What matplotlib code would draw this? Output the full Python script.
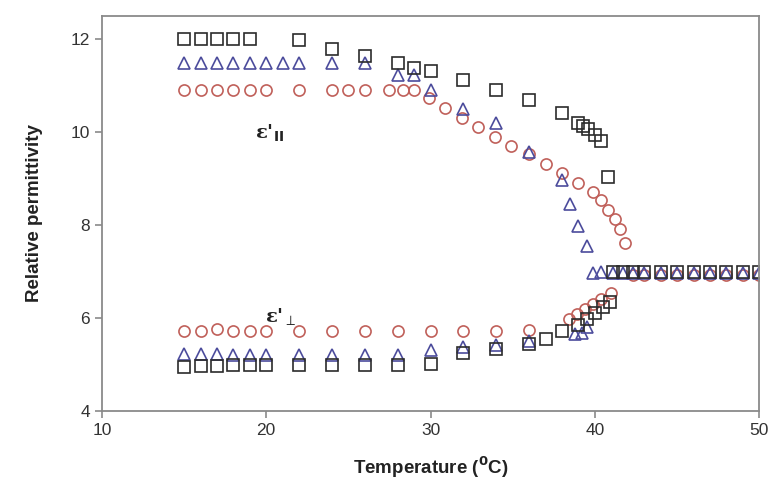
import numpy as np
import matplotlib
matplotlib.use('Agg')
import matplotlib.pyplot as plt

plt.rcParams['font.family'] = ['Liberation Sans', 'DejaVu Sans']

# parallel branch (upper curves)
sq_par_t = [15, 16, 17, 18, 19, 22, 24, 26, 28, 29, 30, 32, 34, 36, 38,
            39, 39.3, 39.6, 40, 40.4, 40.8,
            41.1, 41.7, 42.3, 43, 44, 45, 46, 47, 48, 49, 50]
sq_par_v = [12.0, 12.0, 12.0, 12.0, 12.0, 11.98, 11.78, 11.63, 11.48, 11.38, 11.32, 11.13, 10.9, 10.69, 10.42,
            10.2, 10.13, 10.06, 9.94, 9.8, 9.04,
            7.0, 7.0, 7.0, 7.0, 7.0, 7.0, 7.0, 7.0, 7.0, 7.0, 7.0]

tri_par_t = [15, 16, 17, 18, 19, 20, 21, 22, 24, 26, 28, 29, 30, 32, 34, 36, 38,
             38.5, 39, 39.5, 39.9, 40.4,
             41.1, 41.7, 42.3, 43, 44, 45, 46, 47, 48, 49, 50]
tri_par_v = [11.48, 11.48, 11.48, 11.48, 11.48, 11.48, 11.48, 11.48, 11.48, 11.48, 11.23, 11.23, 10.9, 10.5, 10.2, 9.58, 8.98,
             8.46, 7.98, 7.55, 6.97, 7.0,
             6.97, 6.97, 6.97, 6.97, 6.97, 6.97, 6.97, 6.97, 6.97, 6.97, 6.97]

cir_par_t = [15, 16, 17, 18, 19, 20, 22, 24, 25, 26, 27.5, 28.3, 29, 29.9, 30.9, 31.9, 32.9, 33.9, 34.9,
             36, 37, 38, 39, 39.9, 40.4, 40.8, 41.2, 41.5, 41.8,
             42.3, 43, 44, 45, 46, 47, 48, 49, 50]
cir_par_v = [10.91, 10.91, 10.91, 10.91, 10.91, 10.91, 10.91, 10.91, 10.91, 10.91, 10.91, 10.91, 10.91, 10.73, 10.52,
             10.3, 10.12, 9.9, 9.71, 9.52, 9.32, 9.12, 8.91, 8.72, 8.53, 8.33, 8.13, 7.92, 7.61,
             6.93, 6.93, 6.93, 6.93, 6.93, 6.93, 6.93, 6.93, 6.93]

# perpendicular branch (lower curves)
sq_perp_t = [15, 16, 17, 18, 19, 20, 22, 24, 26, 28, 30, 32, 34, 36, 37, 38, 39, 39.5, 40, 40.5, 40.9]
sq_perp_v = [4.95, 4.96, 4.97, 5.0, 5.0, 5.0, 4.99, 4.99, 4.99, 4.99, 5.02, 5.24, 5.33, 5.44, 5.54, 5.72, 5.85,
             5.98, 6.1, 6.24, 6.35]

tri_perp_t = [15, 16, 17, 18, 19, 20, 22, 24, 26, 28, 30, 32, 34, 36, 38.8, 39.2, 39.5]
tri_perp_v = [5.22, 5.22, 5.22, 5.2, 5.2, 5.2, 5.2, 5.2, 5.2, 5.2, 5.31, 5.38, 5.42, 5.5, 5.65, 5.68, 5.8]

cir_perp_t = [15, 16, 17, 18, 19, 20, 22, 24, 26, 28, 30, 32, 34, 36, 38.4, 38.9, 39.4, 39.9, 40.4, 41.0]
cir_perp_v = [5.72, 5.72, 5.77, 5.72, 5.72, 5.72, 5.72, 5.72, 5.72, 5.72, 5.72, 5.72, 5.72, 5.74,
              5.99, 6.08, 6.19, 6.3, 6.42, 6.53]

sq_col = '#2b2b2b'
tri_col = '#4c4c9c'
cir_col = '#c0605a'

fig = plt.figure(figsize=(7.72, 4.79), dpi=100)
ax = fig.add_axes([0.132, 0.142, 0.8515, 0.8246])

ax.plot(cir_par_t, cir_par_v, 'o', ms=8, mfc='none', mec=cir_col, mew=1.2, ls='none')
ax.plot(cir_perp_t, cir_perp_v, 'o', ms=8, mfc='none', mec=cir_col, mew=1.2, ls='none')
ax.plot(tri_par_t, tri_par_v, '^', ms=8, mfc='none', mec=tri_col, mew=1.2, ls='none')
ax.plot(tri_perp_t, tri_perp_v, '^', ms=8, mfc='none', mec=tri_col, mew=1.2, ls='none')
ax.plot(sq_par_t, sq_par_v, 's', ms=8.5, mfc='none', mec=sq_col, mew=1.2, ls='none')
ax.plot(sq_perp_t, sq_perp_v, 's', ms=8.5, mfc='none', mec=sq_col, mew=1.2, ls='none')

ax.text(20.2, 9.98, "ε'$_{\\mathbf{II}}$", fontsize=14, fontweight='bold',
        family='DejaVu Serif', ha='center', va='center', color='#222222')
ax.text(20.9, 6.02, "ε'$_{\\perp}$", fontsize=14, fontweight='bold',
        family='DejaVu Serif', ha='center', va='center', color='#222222')

ax.set_xlim(10, 50)
ax.set_ylim(4, 12.5)
ax.set_xticks([10, 20, 30, 40, 50])
ax.set_yticks([4, 6, 8, 10, 12])

for s in ax.spines.values():
    s.set_color('#8a8a8a')
    s.set_linewidth(1.3)
ax.tick_params(direction='out', length=5, width=1.2, color='#8a8a8a',
               labelsize=12.5, labelcolor='#333333')

ax.set_xlabel('Temperature ($^{\\mathbf{0}}$C)', fontsize=13.5, fontweight='bold', color='#222222', labelpad=12)
ax.set_ylabel('Relative permittivity', fontsize=13.5, fontweight='bold', color='#222222', labelpad=20)

fig.savefig('out.png', dpi=100)
